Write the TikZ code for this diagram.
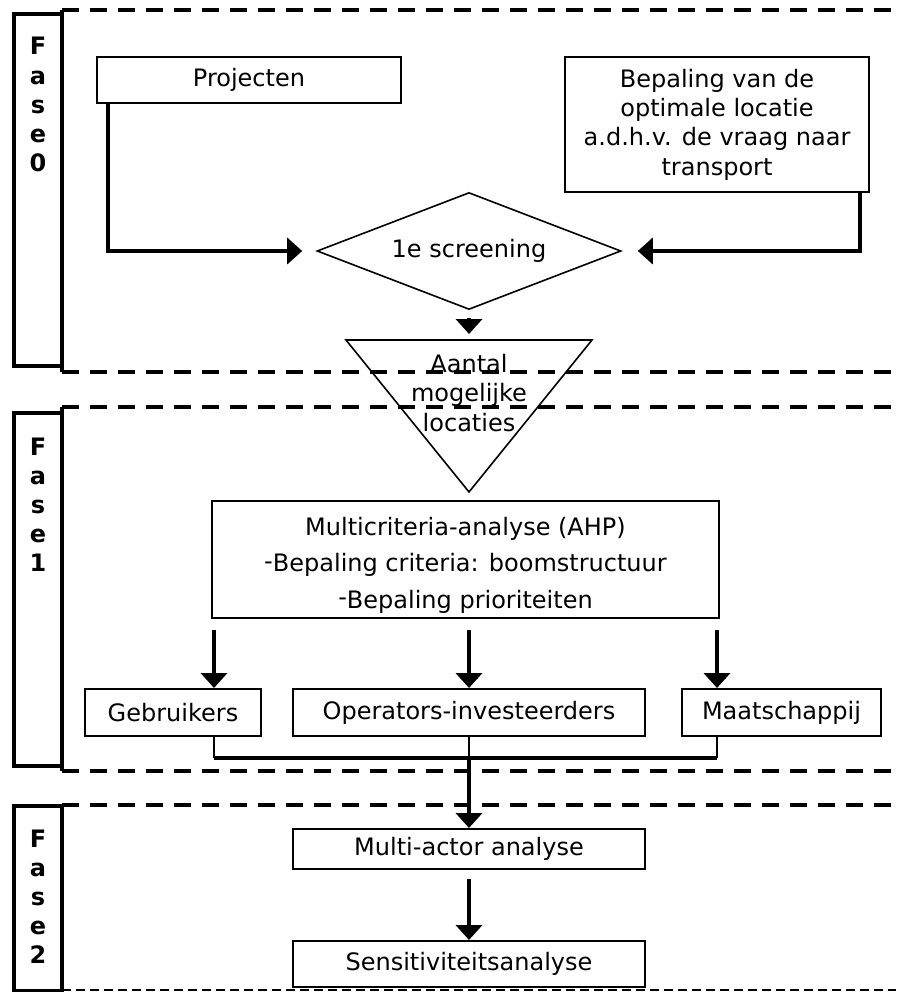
\documentclass[tikz,border=0pt]{standalone}
\usepackage{fontspec}
\setmainfont{DejaVu Sans}
\usetikzlibrary{shapes.geometric,arrows.meta}
\begin{document}
\begin{tikzpicture}[x=1pt, y=-1pt,
    tekst/.style={align=center, font=\fontsize{24}{29.3}\selectfont},
    box/.style={tekst, draw, line width=2pt, inner sep=0pt},
    pijl/.style={line width=4pt, -{Triangle[length=15pt,width=26pt]}},
    dun/.style={line width=1.6pt},
    fase/.style={draw, line width=3.5pt},
    letter/.style={anchor=base, font=\fontsize{24}{29.3}\selectfont\bfseries},
    grens/.style={line width=4.5pt, dash pattern=on 17pt off 11pt}]
        \useasboundingbox (0,0) rectangle (896,992);

        \draw[fase] (14,14) rectangle (62,366);
        \draw[fase] (62,10) -- (62,372);
        \draw[fase] (14,413) rectangle (62,766);
        \draw[fase] (62,407) -- (62,771);
        \draw[fase] (14,806) rectangle (62,991);
        \draw[fase] (62,805) -- (62,991);
        \foreach \c [count=\i from 0] in {F,a,s,e,0}
            \node[letter] (f0\i) at (38, 55+29.2*\i) {\c};
        \foreach \c [count=\i from 0] in {F,a,s,e,1}
            \node[letter] (f1\i) at (38, 455+29.2*\i) {\c};
        \foreach \c [count=\i from 0] in {F,a,s,e,2}
            \node[letter] (f2\i) at (38, 847+29.2*\i) {\c};

        \draw[grens] (62,10) -- (896,10);
        \draw[grens] (62,372) -- (896,372);
        \draw[grens] (62,407) -- (896,407);
        \draw[grens] (62,771) -- (896,771);
        \draw[grens] (62,805) -- (896,805);
        \draw[line width=2pt, dash pattern=on 9pt off 5pt] (62,990) -- (896,990);

        \node[box, minimum width=304, minimum height=46] (proj) at (249,80) {Projecten};
        \node[box, minimum width=304, minimum height=135] (bep) at (717,124.5)
            {Bepaling van de\\optimale locatie\\a.d.h.v. de vraag naar\\transport};
        \node[box, line width=1.6pt, diamond, shape aspect=2.6, minimum width=304, minimum height=117] (scr) at (469,251) {1e screening};

        \coordinate (tl) at (346,340);
        \coordinate (tm) at (469,340);
        \coordinate (tr) at (592,340);
        \coordinate (tp) at (469,492);
        \draw[dun] (tl) -- (tr) -- (tp) -- cycle;
        \node[tekst] (aantal) at (469,393) {Aantal\\mogelijke\\locaties};

        \node[box, minimum width=507, minimum height=117] (mca) at (465.5,559.5) {};
        \node[tekst, font=\fontsize{24}{36.5}\selectfont] (mcatekst) at (465.5,565)
            {Multicriteria-analyse (AHP)\\\raisebox{0.1em}{-}Bepaling criteria: boomstructuur\\\raisebox{0.1em}{-}Bepaling prioriteiten};

        \node[box, minimum width=176, minimum height=47] (gebr) at (173,712.5) {Gebruikers};
        \node[box, minimum width=352, minimum height=47] (oper) at (469,712.5) {Operators-investeerders};
        \node[box, minimum width=199, minimum height=47] (maat) at (781.5,712.5) {Maatschappij};
        \node[box, minimum width=352, minimum height=40] (mactor) at (469,849) {Multi-actor analyse};
        \node[box, minimum width=352, minimum height=46] (sens) at (469,964) {Sensitiviteitsanalyse};

        \draw[pijl] ([xshift=-141pt]proj.south) |- ([xshift=-14pt]scr.west);
        \draw[pijl] ([xshift=143pt]bep.south) |- ([xshift=16pt]scr.east);
        \draw[pijl] ([yshift=-8pt]scr.south) -- ([yshift=6pt]tm);

        \coordinate (ga) at (214,630);
        \coordinate (oa) at (469,630);
        \coordinate (ma) at (717,630);
        \draw[pijl] (ga) -- (ga |- gebr.north);
        \draw[pijl] (oa) -- (oper.north);
        \draw[pijl] (ma) -- (ma |- maat.north);

        \coordinate (samen) at (469,758);
        \draw[dun] (gebr.south -| ga) -- (ga |- samen);
        \draw[dun] (oper.south) -- (samen);
        \draw[dun] (maat.south -| ma) -- (ma |- samen);
        \draw[line width=4pt] (ga |- samen) -- (ma |- samen);
        \draw[pijl] (samen) -- (mactor.north);
        \draw[pijl] ([yshift=-9pt]mactor.south) -- (sens.north);

    \end{tikzpicture}
\end{document}
